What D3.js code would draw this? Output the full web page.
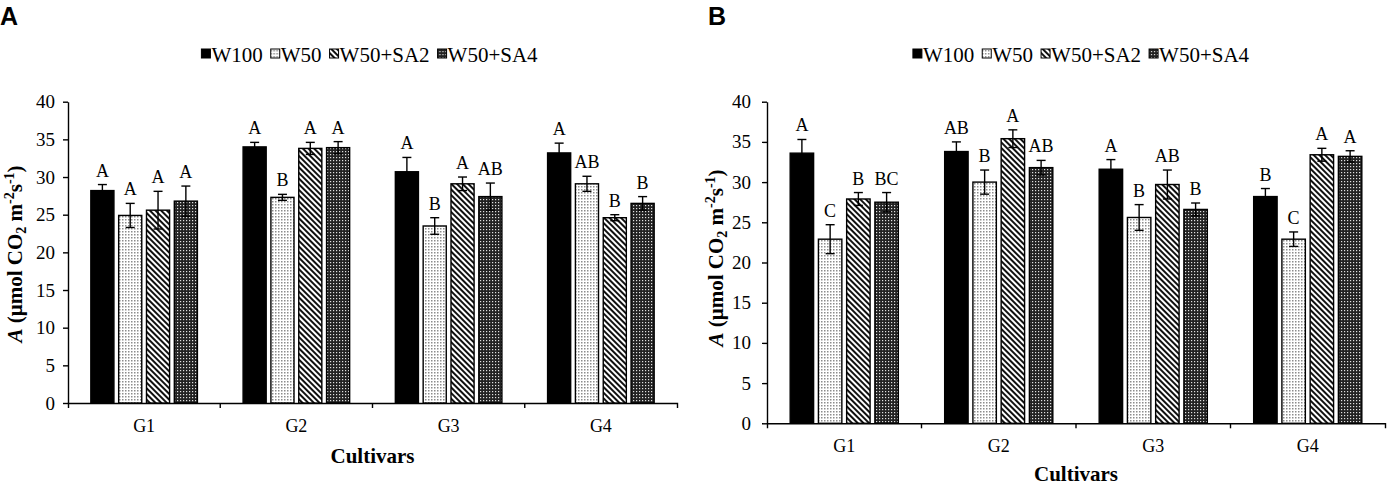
<!DOCTYPE html>
<html>
<head>
<meta charset="utf-8">
<script src="https://cdn.jsdelivr.net/npm/d3@7"></script>
<style>
  body { margin: 0; background: #fff; }
  svg text { font-family: "Liberation Serif", "Times New Roman", serif; fill: #000; }
</style>
</head>
<body>
<div id="chart"></div>
<script>
// categories and series
const groups = ["G1", "G2", "G3", "G4"];
const series = ["W100", "W50", "W50+SA2", "W50+SA4"];
const yTicks = [0, 5, 10, 15, 20, 25, 30, 35, 40];

// panel A - one array per series, values for G1..G4
const meansA = [
  [28.2, 34.0, 30.7, 33.2],
  [24.9, 27.3, 23.5, 29.1],
  [25.6, 33.8, 29.1, 24.6],
  [26.8, 33.9, 27.4, 26.5],
];
const errA = [
  [0.8, 0.6, 1.9, 1.3],
  [1.6, 0.4, 1.1, 1.0],
  [2.5, 0.8, 0.9, 0.4],
  [2.0, 0.8, 1.8, 0.9],
];
const lettersA = [
  ["A", "A", "A", "A"],
  ["A", "B", "B", "AB"],
  ["A", "A", "A", "B"],
  ["A", "A", "AB", "B"],
];

// panel B
const meansB = [
  [33.6, 33.8, 31.6, 28.2],
  [22.9, 30.0, 25.6, 22.9],
  [27.9, 35.4, 29.7, 33.4],
  [27.5, 31.8, 26.6, 33.2],
];
const errB = [
  [1.7, 1.2, 1.2, 1.0],
  [1.8, 1.5, 1.6, 0.9],
  [0.8, 1.1, 1.8, 0.8],
  [1.2, 0.9, 0.8, 0.7],
];
const lettersB = [
  ["A", "AB", "A", "B"],
  ["C", "B", "B", "C"],
  ["B", "A", "AB", "A"],
  ["BC", "AB", "B", "A"],
];

const svg = d3
  .select("#chart")
  .append("svg")
  .attr("width", 1393)
  .attr("height", 485);

// fill patterns
const defs = svg.append("defs");

const dots = defs.append("pattern")
  .attr("id", "pDots")
  .attr("patternUnits", "userSpaceOnUse")
  .attr("width", 3)
  .attr("height", 3);
dots.append("rect").attr("width", 3).attr("height", 3).attr("fill", "#fff");
dots.append("rect").attr("width", 1.5).attr("height", 1.5).attr("fill", "#8c8c8c");

const stripes = defs.append("pattern")
  .attr("id", "pStripes")
  .attr("patternUnits", "userSpaceOnUse")
  .attr("width", 4)
  .attr("height", 4)
  .attr("patternTransform", "rotate(-45)");
stripes.append("rect").attr("width", 4).attr("height", 4).attr("fill", "#fff");
stripes.append("rect").attr("width", 2).attr("height", 4).attr("fill", "#111");

const dark = defs.append("pattern")
  .attr("id", "pDark")
  .attr("patternUnits", "userSpaceOnUse")
  .attr("width", 3)
  .attr("height", 3);
dark.append("rect").attr("width", 3).attr("height", 3).attr("fill", "#222");
dark.append("rect").attr("x", 1).attr("y", 1).attr("width", 1.2).attr("height", 1.2).attr("fill", "#e0e0e0");

const fills = d3.scaleOrdinal()
  .domain(series)
  .range(["#000", "url(#pDots)", "url(#pStripes)", "url(#pDark)"]);

function drawPanel(cfg, means, errs, letters) {
  const width = cfg.right - cfg.left;
  const g = svg.append("g").attr("transform", `translate(${cfg.left},0)`);

  const y = d3.scaleLinear().domain([0, 40]).range([cfg.bottom, cfg.top]);
  const x0 = d3.scaleBand().domain(groups).range([0, width]);
  const x1 = d3.scaleBand()
    .domain(series)
    .range([x0.bandwidth() * 0.15, x0.bandwidth() * 0.85])
    .paddingInner(0.17);

  const rows = groups.flatMap((gr, gi) =>
    series.map((s, si) => ({
      g: gr, s: s,
      v: means[si][gi], e: errs[si][gi], l: letters[si][gi],
    }))
  );

  // y axis
  const yAxis = g.append("g")
    .call(d3.axisLeft(y).tickValues(yTicks).tickSize(5).tickSizeOuter(0).tickPadding(cfg.tickPad));
  yAxis.selectAll("text").attr("font-size", 19).style("font-family", "Liberation Serif");
  yAxis.selectAll("line, path").attr("stroke", "#000").attr("stroke-width", 1.4);

  // x axis
  const xAxis = g.append("g")
    .attr("transform", `translate(0,${cfg.bottom})`)
    .call(d3.axisBottom(x0).tickSize(0).tickSizeOuter(5).tickPadding(16));
  xAxis.selectAll("text").attr("font-size", 18).style("font-family", "Liberation Serif");
  xAxis.selectAll("path").attr("stroke", "#000").attr("stroke-width", 1.4);
  xAxis.selectAll(".sep")
    .data(groups.slice(1))
    .join("line")
    .attr("class", "sep")
    .attr("x1", (d) => x0(d))
    .attr("x2", (d) => x0(d))
    .attr("y1", 0)
    .attr("y2", 5)
    .attr("stroke", "#000")
    .attr("stroke-width", 1.4);

  // bars
  g.append("g")
    .selectAll("rect")
    .data(rows)
    .join("rect")
    .attr("x", (d) => x0(d.g) + x1(d.s))
    .attr("y", (d) => y(d.v))
    .attr("width", x1.bandwidth())
    .attr("height", (d) => y(0) - y(d.v))
    .attr("fill", (d) => fills(d.s))
    .attr("stroke", "#000")
    .attr("stroke-width", 1.4);

  // error bars
  const eb = g.append("g")
    .attr("stroke", "#000")
    .attr("stroke-width", 1.4)
    .selectAll("g")
    .data(rows)
    .join("g")
    .attr("transform", (d) => `translate(${x0(d.g) + x1(d.s) + x1.bandwidth() / 2},0)`);
  eb.append("line")
    .attr("y1", (d) => y(d.v - d.e))
    .attr("y2", (d) => y(d.v + d.e));
  eb.append("line")
    .attr("x1", -4.5).attr("x2", 4.5)
    .attr("y1", (d) => y(d.v + d.e))
    .attr("y2", (d) => y(d.v + d.e));
  eb.append("line")
    .attr("x1", -4.5).attr("x2", 4.5)
    .attr("y1", (d) => y(d.v - d.e))
    .attr("y2", (d) => y(d.v - d.e));

  // significance letters
  g.append("g")
    .selectAll("text")
    .data(rows)
    .join("text")
    .attr("x", (d) => x0(d.g) + x1(d.s) + x1.bandwidth() / 2)
    .attr("y", (d) => y(d.v + d.e) - 8)
    .attr("text-anchor", "middle")
    .attr("font-size", 18)
    .text((d) => d.l);

  // axis titles
  g.append("text")
    .attr("x", width / 2)
    .attr("y", cfg.xTitleY)
    .attr("text-anchor", "middle")
    .attr("font-size", 21)
    .attr("font-weight", "bold")
    .text("Cultivars");

  const yl = g.append("text")
    .attr("transform", `translate(${cfg.yTitleX},${cfg.yTitleMid}) rotate(-90)`)
    .attr("text-anchor", "middle")
    .attr("font-size", 21)
    .attr("font-weight", "bold");
  yl.append("tspan").attr("font-style", "italic").text("A");
  yl.append("tspan").text(" (µmol CO");
  yl.append("tspan").attr("font-size", 14).attr("dy", 4).text("2");
  yl.append("tspan").attr("dy", -4).text(" m");
  yl.append("tspan").attr("font-size", 14).attr("dy", -8).text("-2");
  yl.append("tspan").attr("dy", 8).text("s");
  yl.append("tspan").attr("font-size", 14).attr("dy", -8).text("-1");
  yl.append("tspan").attr("dy", 8).text(")");

  // legend
  const legend = g.append("g").attr("transform", `translate(0,${cfg.legendY})`);
  let cx = 0;
  series.forEach((s) => {
    legend.append("rect")
      .attr("x", cx)
      .attr("y", -13)
      .attr("width", 9)
      .attr("height", 9)
      .attr("fill", fills(s))
      .attr("stroke", "#000")
      .attr("stroke-width", 1);
    const t = legend.append("text")
      .attr("x", cx + 10)
      .attr("y", 0)
      .attr("font-size", 21)
      .text(s);
    cx += 10 + t.node().getComputedTextLength() + 8;
  });
  const lw = cx - 8;
  legend.attr("transform", `translate(${width / 2 - lw / 2 + cfg.legendShift},${cfg.legendY})`);

  // panel letter
  svg.append("text")
    .attr("x", cfg.titleX)
    .attr("y", 25)
    .style("font-family", "Liberation Sans, Arial, sans-serif")
    .attr("font-size", 25)
    .attr("font-weight", "bold")
    .text(cfg.name);
}

drawPanel(
  { name: "A", left: 68, right: 677, top: 101.7, bottom: 403, tickPad: 8,
    xTitleY: 463, yTitleX: -46, yTitleMid: 254, legendY: 62, legendShift: -3, titleX: 0 },
  meansA, errA, lettersA
);

drawPanel(
  { name: "B", left: 767, right: 1385, top: 101.7, bottom: 423.3, tickPad: 11,
    xTitleY: 481, yTitleX: -44, yTitleMid: 258, legendY: 62, legendShift: 5, titleX: 708 },
  meansB, errB, lettersB
);
</script>
</body>
</html>
